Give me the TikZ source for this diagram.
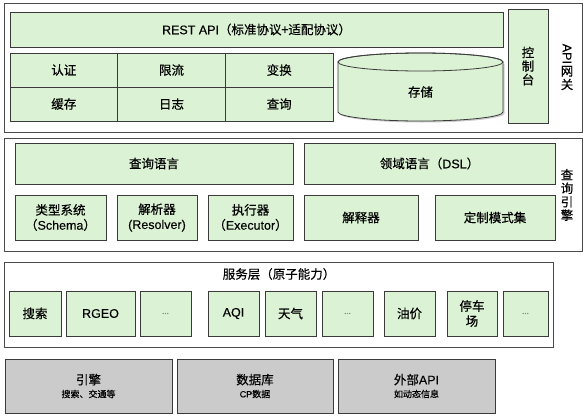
\documentclass[tikz,border=0pt]{standalone}
\usepackage{fontspec}
\setmainfont{Noto Sans CJK SC}[FakeBold=0.4]
\newfontfamily\lat{Liberation Sans}[FakeBold=0.2]
\usetikzlibrary{shadows}

\begin{document}
\begin{tikzpicture}[
    x=1pt, y=-1pt,
    every node/.style={font=\fontsize{12.5}{15}\selectfont, inner sep=0pt},
]

% ---------------------------------------------------------------- colours
\definecolor{cellfill}{HTML}{DCF2D4}   % green cells
\definecolor{basefill}{HTML}{CBCBCB}   % bottom data sources
\definecolor{edgecolor}{HTML}{3A3A3A}
\definecolor{layeredge}{HTML}{4A4A4A}
\definecolor{dotcolor}{HTML}{8A8A8A}

\tikzset{
    layer/.style={draw=layeredge, fill=white, line width=0.9pt,
        drop shadow={shadow xshift=1pt, shadow yshift=-1pt, opacity=0.25}},
    cell/.style={draw=edgecolor, fill=cellfill, line width=0.8pt, align=center,
        drop shadow={shadow xshift=1pt, shadow yshift=-1pt, opacity=0.2}},
    grid/.style={draw=edgecolor, fill=cellfill, line width=0.8pt},
    base/.style={draw=edgecolor, fill=basefill, line width=0.8pt, align=center,
        drop shadow={shadow xshift=1pt, shadow yshift=-1pt, opacity=0.3}},
    sz/.style 2 args={minimum width=#1pt, minimum height=#2pt},
    more/.style={text=dotcolor, font=\fontsize{8}{9}\selectfont},
    side/.style={align=center, font=\fontsize{12.5}{13.5}\selectfont},
    small/.style={font=\fontsize{6.5}{8}\selectfont},
}

\useasboundingbox (0,0) rectangle (587,418);

% ================================================================
% API gateway
% ================================================================
\node[layer, sz={578}{129}] (gw) at (293, 67.5) {};

\node[cell, sz={493}{35}] (rest) at (256.5, 29.5)
    {{\lat REST API}（标准协议+适配协议）};

% the six plugins, two rows of three
\node[grid, sz={107.7}{34}] (auth)  at (63.8, 70)  {认证};
\node[grid, sz={107.7}{34}] (limit) at (171.5, 70) {限流};
\node[grid, sz={107.7}{34}] (trans) at (279.2, 70) {变换};
\node[grid, sz={107.7}{34}] (cache) at (63.8, 104)  {缓存};
\node[grid, sz={107.7}{34}] (log)   at (171.5, 104) {日志};
\node[grid, sz={107.7}{34}] (query) at (279.2, 104) {查询};

% storage drum: top ellipse at y=62, bottom at y=112, ry=9
\fill[black, opacity=0.2] (339.5, 63.5) -- (339.5, 113.5)
    arc[start angle=180, end angle=360, x radius=82.5, y radius=-9]
    -- (504.5, 63.5) -- cycle;
\filldraw[edgecolor, fill=cellfill, line width=0.8pt]
    (338, 62) -- (338, 112)
    arc[start angle=180, end angle=360, x radius=82.5, y radius=-9]
    -- (503, 62)
    arc[start angle=0, end angle=180, x radius=82.5, y radius=-9] -- cycle;
\draw[edgecolor, line width=0.8pt] (420.5, 62) ellipse[x radius=82.5, y radius=9];
\node (store) at (420.5, 92) {存储};

\node[cell, sz={40}{114}, side] (console) at (528, 66) {控\\制\\台};
\node[side] (gwlabel) at (567, 67) {\rotatebox{-90}{\lat API}\\[1pt]网\\关};

% ================================================================
% query engine
% ================================================================
\node[layer, sz={578}{113}] (qe) at (293, 194.5) {};

\node[cell, sz={278}{41}] (qlang) at (154, 163.5) {查询语言};
\node[cell, sz={251}{41}] (dsl) at (429.5, 163.5) {领域语言（{\lat DSL}）};

\node[cell, sz={91}{45}]  (schema)   at (60.5, 217.5) {类型系统\\（{\lat Schema}）};
\node[cell, sz={80}{45}]  (resolver) at (157, 217.5)  {解析器\\{\lat (Resolver)}};
\node[cell, sz={85}{45}]  (executor) at (250.5, 217.5) {执行器\\（{\lat Executor}）};
\node[cell, sz={114}{45}] (interp)   at (361, 217.5)  {解释器};
\node[cell, sz={120}{45}] (custom)   at (495, 217.5)  {定制模式集};

\node[side] (qelabel) at (567, 195) {查\\询\\引\\擎};

% ================================================================
% service layer (atomic abilities)
% ================================================================
\node[layer, sz={549}{85}] (svc) at (278.5, 304.5) {};
\node (svctitle) at (279, 274) {服务层（原子能力）};

\node[cell, sz={52}{45}] (search)  at (35, 313.5)    {搜索};
\node[cell, sz={69}{45}] (rgeo)    at (100.5, 313.5) {\lat RGEO};
\node[cell, sz={51}{45}, more] (etc1) at (165.5, 313.5) {...};
\node[cell, sz={51}{45}] (aqi)     at (233.5, 313.5) {\lat AQI};
\node[cell, sz={51}{45}] (weather) at (290.5, 313.5) {天气};
\node[cell, sz={51}{45}, more] (etc2) at (347.5, 313.5) {...};
\node[cell, sz={51}{45}] (oil)     at (409.5, 313.5) {油价};
\node[cell, sz={50}{45}] (parking) at (472, 313.5)   {停车\\场};
\node[cell, sz={45}{45}, more] (etc3) at (525.5, 313.5) {...};

% ================================================================
% data sources
% ================================================================
\node[base, sz={167}{54}] (engine) at (88.5, 386)
    {引擎\\[-2pt]{\small 搜索、交通等}};
\node[base, sz={156}{54}] (db) at (255, 386)
    {数据库\\[-2pt]{\small {\lat CP}数据}};
\node[base, sz={157}{54}] (extapi) at (416.5, 386)
    {外部{\lat API}\\[-2pt]{\small 如动态信息}};

\end{tikzpicture}
\end{document}
